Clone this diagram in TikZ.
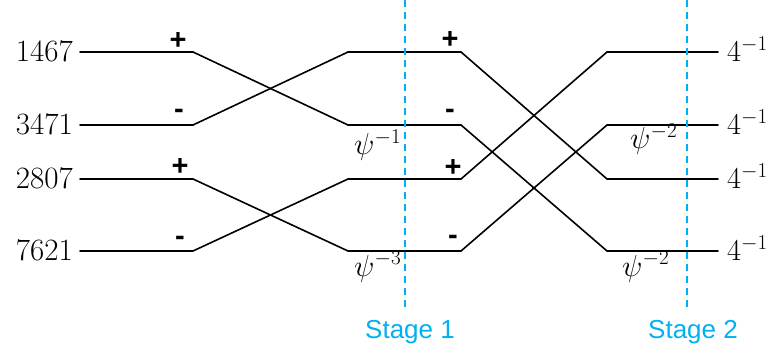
\documentclass[tikz,border=0pt]{standalone}
\usepackage{fontspec}
\newfontfamily\stagefont{Liberation Sans}
\definecolor{stageblue}{RGB}{0,176,240}
\newcommand{\bigmath}[1]{\scalebox{1.22}{$#1$}}
\begin{document}
\begin{tikzpicture}[x=1pt,y=1pt,
  wire/.style={line width=1.6pt,line cap=round},
  stageline/.style={stageblue,line width=1.6pt,dash pattern=on 7pt off 5pt},
  sign/.style={font=\fontsize{29}{31}\selectfont\stagefont\bfseries,inner sep=0pt},
  inlabel/.style={font=\fontsize{31}{34}\selectfont,inner sep=0pt,anchor=base east},
  outlabel/.style={font=\fontsize{27}{30}\selectfont,inner sep=0pt,anchor=base west},
  twiddle/.style={font=\fontsize{27}{30}\selectfont,inner sep=0pt,anchor=base west},
  stagelabel/.style={font=\fontsize{26}{28}\selectfont\stagefont,text=stageblue,inner sep=0pt,anchor=base}]
\useasboundingbox (0,0) rectangle (770,356);

% row heights
\def\ra{304}\def\rb{231}\def\rc{177}\def\rd{105}

% input labels
\node[inlabel] (in1) at (73,\ra-9.5) {1467};
\node[inlabel] (in2) at (73,\rb-9.5) {3471};
\node[inlabel] (in3) at (73,\rc-9.5) {2807};
\node[inlabel] (in4) at (73,\rd-9.5) {7621};

% wire junctions, columns 0..5
\foreach \r/\y in {1/\ra,2/\rb,3/\rc,4/\rd}{
  \coordinate (p0\r) at (80,\y);
  \coordinate (p1\r) at (193,\y);
  \coordinate (p2\r) at (348,\y);
  \coordinate (p3\r) at (461,\y);
  \coordinate (p4\r) at (607,\y);
  \coordinate (p5\r) at (718,\y);
}

% horizontal segments
\foreach \r in {1,2,3,4}{
  \draw[wire] (p0\r) -- (p1\r);
  \draw[wire] (p2\r) -- (p3\r);
  \draw[wire] (p4\r) -- (p5\r);
}

% stage 1 butterflies
\draw[wire] (p11) -- (p22);
\draw[wire] (p12) -- (p21);
\draw[wire] (p13) -- (p24);
\draw[wire] (p14) -- (p23);

% stage 2 butterflies
\draw[wire] (p31) -- (p43);
\draw[wire] (p33) -- (p41);
\draw[wire] (p32) -- (p44);
\draw[wire] (p34) -- (p42);

% stage markers
\coordinate (s1top) at (405,356);
\coordinate (s1bot) at (405,49);
\coordinate (s2top) at (687,356);
\coordinate (s2bot) at (687,48);
\draw[stageline] (s1top) -- (s1bot);
\draw[stageline] (s2top) -- (s2bot);
\node[stagelabel] (st1) at (410,18) {Stage 1};
\node[stagelabel] (st2) at (693,18) {Stage 2};

% butterfly signs
\node[sign] (a1) at (178,314.5) {+};
\node[sign] (a2) at (179,242) {-};
\node[sign] (a3) at (180,189) {+};
\node[sign] (a4) at (180,115) {-};
\node[sign] (b1) at (450,316) {+};
\node[sign] (b2) at (450,242) {-};
\node[sign] (b3) at (453,188) {+};
\node[sign] (b4) at (453,116) {-};

% twiddle factors
\node[twiddle] (w1) at (354,356-155) {\bigmath{\psi^{-1}}};
\node[twiddle] (w2) at (354,356-276) {\bigmath{\psi^{-3}}};
\node[twiddle] (w3) at (630,356-149) {\bigmath{\psi^{-2}}};
\node[twiddle] (w4) at (622,356-276) {\bigmath{\psi^{-2}}};

% output scaling
\node[outlabel] (o1) at (727,\ra-9.5) {\bigmath{4^{-1}}};
\node[outlabel] (o2) at (727,\rb-9.5) {\bigmath{4^{-1}}};
\node[outlabel] (o3) at (727,\rc-9.5) {\bigmath{4^{-1}}};
\node[outlabel] (o4) at (727,\rd-9.5) {\bigmath{4^{-1}}};
\end{tikzpicture}
\end{document}
